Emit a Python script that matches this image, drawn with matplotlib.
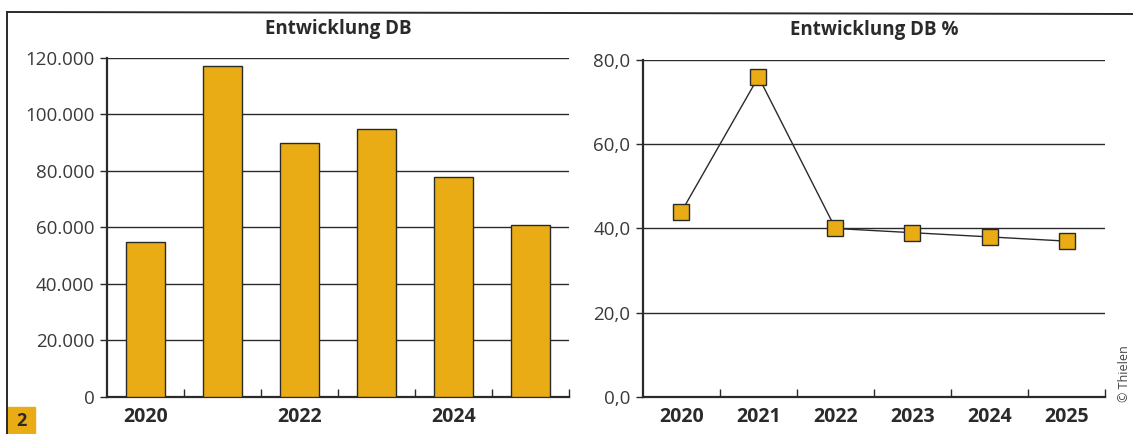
import matplotlib.pyplot as plt
from matplotlib.patches import Rectangle
from matplotlib.lines import Line2D

# data
years = ['2020', '2021', '2022', '2023', '2024', '2025']
db_values = [55000, 117000, 90000, 95000, 78000, 61000]
db_percent = [44.0, 76.0, 40.0, 39.0, 38.0, 37.0]
left_ticks = [0, 20000, 40000, 60000, 80000, 100000, 120000]
left_ticklabels = ['0', '20.000', '40.000', '60.000', '80.000', '100.000', '120.000']
right_ticks = [0, 20, 40, 60, 80]
right_ticklabels = ['0,0', '20,0', '40,0', '60,0', '80,0']

GOLD = '#E9AC14'
DARK = '#2a2a2a'

plt.rcParams['font.family'] = ['Open Sans', 'DejaVu Sans']

fig = plt.figure(figsize=(11.33, 4.34), dpi=100)
fig.patch.set_facecolor('white')


def style_axes(ax, yticks, ylabels, ymax):
    x = list(range(len(years)))
    ax.set_xlim(-0.5, len(years) - 0.5)
    ax.set_ylim(0, ymax)
    ax.set_yticks(yticks)
    ax.set_yticklabels(ylabels, fontsize=13.5, color='#3a3a3a')
    ax.yaxis.grid(True, color=DARK, linewidth=1.0)
    ax.set_axisbelow(True)
    for s in ['top', 'right']:
        ax.spines[s].set_visible(False)
    for s in ['left', 'bottom']:
        ax.spines[s].set_linewidth(1.6)
        ax.spines[s].set_color(DARK)
    ax.tick_params(axis='y', length=5, width=1.0, color=DARK, pad=4)
    # small ticks at the category borders, pointing inwards
    ax.set_xticks([i + 0.5 for i in x], minor=True)
    ax.tick_params(axis='x', which='minor', direction='in', length=6, width=1.0, color=DARK)
    ax.tick_params(axis='x', which='major', length=0, pad=7)


# left: bars
ax1 = fig.add_axes([0.0944, 0.0853, 0.4078, 0.7811])
xs = list(range(len(years)))
ax1.bar(xs, db_values, width=0.5, color=GOLD, edgecolor=DARK, linewidth=1.0, zorder=3)
style_axes(ax1, left_ticks, left_ticklabels, 120000)
ax1.set_xticks(xs[::2])
ax1.set_xticklabels(years[::2], fontsize=14, fontweight='bold', color=DARK)
ax1.set_title('Entwicklung DB', fontsize=13.5, fontweight='bold', color=DARK, pad=17)

# right: line with square markers
ax2 = fig.add_axes([0.5675, 0.0853, 0.4078, 0.7765])
ax2.plot(xs, db_percent, color=DARK, linewidth=1.0, marker='s', markersize=11,
         markerfacecolor=GOLD, markeredgecolor=DARK, markeredgewidth=1.0, zorder=3,
         clip_on=False)
style_axes(ax2, right_ticks, right_ticklabels, 80)
ax2.set_xticks(xs)
ax2.set_xticklabels(years, fontsize=14, fontweight='bold', color=DARK)
ax2.set_title('Entwicklung DB %', fontsize=13.5, fontweight='bold', color=DARK, pad=18)

# outer frame lines of the print layout
fig.add_artist(Line2D([7 / 1133, 1133 / 1133], [1 - 12 / 434, 1 - 14 / 434],
                      color=DARK, linewidth=1.4))
fig.add_artist(Line2D([7 / 1133, 7 / 1133], [0, 1 - 12 / 434], color=DARK, linewidth=1.4))

# figure number badge
fig.add_artist(Rectangle((7 / 1133, 0), 28 / 1133, 27 / 434, color=GOLD,
                         transform=fig.transFigure))
fig.text(21 / 1133, 13 / 434, '2', fontsize=13, fontweight='bold', color=DARK,
         ha='center', va='center')

# credit
fig.text(1125 / 1133, 60 / 434, '© Thielen', fontsize=9, color='#444444',
         rotation=90, ha='center', va='center')

fig.savefig('out.png', dpi=100)
